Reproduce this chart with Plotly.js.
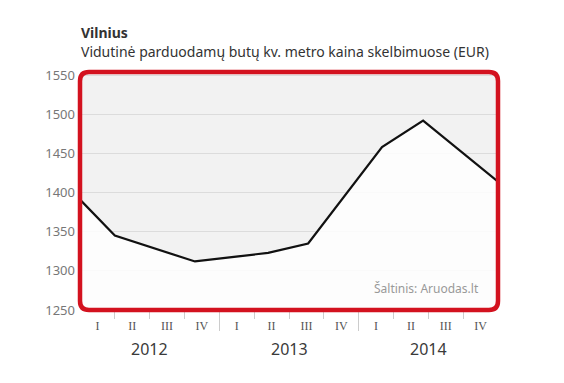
<!DOCTYPE html>
<html>
<head>
<meta charset="utf-8">
<script src="https://cdn.plot.ly/plotly-3.0.1.min.js"></script>
<style>html,body{margin:0;padding:0;background:#fff;}#chart{width:564px;height:383px;}</style>
</head>
<body>
<div id="chart"></div>
<script>
// Data: position in quarters from start of 2012 (0..12) and price (EUR / m2)
const quarterPos = [0, 1.0, 3.3, 5.4, 6.55, 8.67, 9.85, 12];
const priceEUR = [1391, 1345, 1312, 1323, 1335, 1458, 1492, 1414];
const quarterLabels = ['I','II','III','IV','I','II','III','IV','I','II','III','IV'];
const quarterCenters = [0.5,1.5,2.5,3.5,4.5,5.5,6.5,7.5,8.5,9.5,10.5,11.5];
const years = ['2012','2013','2014'];
const yearCenters = [2, 6, 10];
const quarterBounds = [1,2,3,5,6,7,9,10,11];
const yearBounds = [4, 8];
const yTicks = [1250,1300,1350,1400,1450,1500,1550];

const sans = '"Noto Sans", "Open Sans", sans-serif';

const traces = [
  {
    x: quarterPos, y: priceEUR, type: 'scatter', mode: 'lines',
    line: {color: '#111', width: 2.2},
    fill: 'tozeroy', fillcolor: 'rgba(255,255,255,0.85)',
    hoverinfo: 'skip', xaxis: 'x', yaxis: 'y'
  },
  {
    x: [0, 12], y: [1250, 1250], type: 'scatter', mode: 'lines',
    line: {color: 'rgba(0,0,0,0)', width: 0},
    hoverinfo: 'skip', xaxis: 'x2', yaxis: 'y', showlegend: false
  }
];

const r = 9;
const W = 418, H = 238;
const rx = r / W, ry = r / H;
const borderPath =
  'M ' + rx + ',1 L ' + (1 - rx) + ',1 Q 1,1 1,' + (1 - ry) +
  ' L 1,' + ry + ' Q 1,0 ' + (1 - rx) + ',0' +
  ' L ' + rx + ',0 Q 0,0 0,' + ry +
  ' L 0,' + (1 - ry) + ' Q 0,1 ' + rx + ',1 Z';

const annotations = [
  {text: '<b>Vilnius</b>', xref: 'paper', yref: 'paper', x: 0, y: (310 - 32.5) / H,
   xanchor: 'left', yanchor: 'middle', showarrow: false, borderpad: 0,
   font: {family: sans, size: 14, color: '#333'}},
  {text: 'Vidutinė parduodamų butų kv. metro kaina skelbimuose (EUR)', xref: 'paper', yref: 'paper',
   x: 0, y: (310 - 51) / H, xanchor: 'left', yanchor: 'middle', showarrow: false, borderpad: 0,
   font: {family: sans, size: 14, color: '#333'}},
  {text: 'Šaltinis: Aruodas.lt', xref: 'paper', yref: 'paper', x: (481 - 80) / W, y: (310 - 288) / H,
   xanchor: 'right', yanchor: 'middle', showarrow: false,
   font: {family: sans, size: 12, color: '#999'}}
];
years.forEach((yr, i) => annotations.push({
  text: yr, xref: 'x', yref: 'paper', x: yearCenters[i], y: (310 - 349) / H,
  xanchor: 'center', yanchor: 'middle', showarrow: false,
  font: {family: sans, size: 16, color: '#3a3a3a'}
}));

const layout = {
  width: 564, height: 383,
  margin: {l: 80, r: 66, t: 72, b: 73, pad: 0},
  paper_bgcolor: '#fff', plot_bgcolor: '#f2f2f2',
  showlegend: false,
  xaxis: {
    range: [0, 12], tickvals: quarterCenters, ticktext: quarterLabels,
    ticks: '', showgrid: false, zeroline: false, showline: false,
    tickfont: {family: '"Liberation Serif", "DejaVu Serif", serif', size: 12, color: '#555'},
    ticklabelstandoff: 7, fixedrange: true
  },
  xaxis2: {
    range: [0, 12], overlaying: 'x', side: 'bottom', anchor: 'y',
    tickvals: yearBounds, ticks: 'outside', ticklen: 20, tickcolor: '#ccc', tickwidth: 1,
    minor: {tickvals: quarterBounds, ticks: 'outside', ticklen: 8, tickcolor: '#ccc', tickwidth: 1, showgrid: false},
    showticklabels: false, showgrid: false, zeroline: false, showline: false, fixedrange: true
  },
  yaxis: {
    range: [1250, 1554], tickvals: yTicks, ticks: '', showline: false, zeroline: false,
    gridcolor: '#dcdcdc', gridwidth: 1,
    tickfont: {family: sans, size: 13, color: '#777'},
    ticklabelstandoff: 4, fixedrange: true
  },
  shapes: [{
    type: 'path', xref: 'paper', yref: 'paper', path: borderPath,
    line: {color: '#d3121f', width: 4.5}, fillcolor: 'rgba(0,0,0,0)', layer: 'above'
  }],
  annotations: annotations
};

Plotly.newPlot('chart', traces, layout, {staticPlot: true, displayModeBar: false});
</script>
</body>
</html>
